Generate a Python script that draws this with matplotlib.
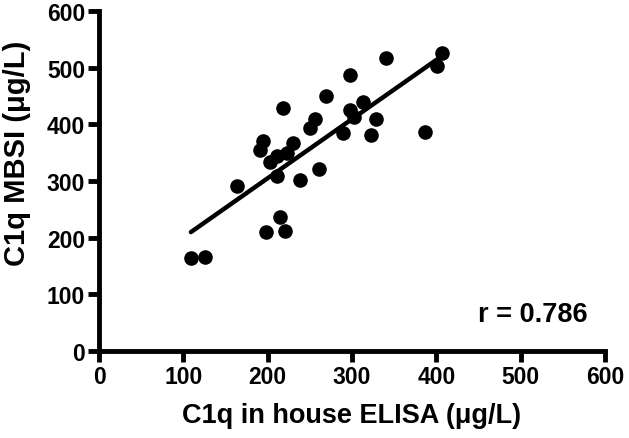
import numpy as np
import matplotlib.pyplot as plt

# C1q in house ELISA (x) vs C1q MBSI (y), ug/L
elisa = [109, 126, 164, 191, 195, 198, 203, 211, 211, 215, 218, 221, 223, 230, 238,
         250, 256, 261, 269, 289, 298, 298, 302, 313, 322, 328, 340, 386, 401, 407]
mbsi = [164, 166, 291, 355, 371, 210, 334, 345, 308, 237, 429, 212, 349, 368, 302,
        393, 410, 322, 451, 385, 487, 426, 413, 439, 382, 410, 517, 387, 504, 527]
r_text = 'r = 0.786'
ticks = [0, 100, 200, 300, 400, 500, 600]

plt.rcParams['font.family'] = ['Liberation Sans', 'DejaVu Sans']
plt.rcParams['font.weight'] = 'bold'

fig = plt.figure(figsize=(6.29, 4.39), dpi=100)
ax = fig.add_axes([0.1574, 0.199, 0.8044, 0.773])

x = np.array(elisa, dtype=float)
y = np.array(mbsi, dtype=float)
ax.plot(x, y, 'o', color='black', markersize=10.5, markeredgewidth=0, zorder=3)

k, b = np.polyfit(x, y, 1)
xf = np.array([x.min(), x.max() - 6])
ax.plot(xf, k*xf + b, '-', color='black', linewidth=3.2, solid_capstyle='round', zorder=2)

ax.text(579, 65, r_text, ha='right', va='center', fontsize=19.5, fontweight='bold')

ax.set_xlim(0, 600)
ax.set_ylim(0, 600)
ax.set_xticks(ticks)
ax.set_yticks(ticks)
ax.spines['top'].set_visible(False)
ax.spines['right'].set_visible(False)
for s in ['left', 'bottom']:
    ax.spines[s].set_linewidth(3.5)
ax.tick_params(direction='out', length=8, width=3.5, labelsize=16.5, pad=2)
for lab in ax.get_xticklabels() + ax.get_yticklabels():
    lab.set_fontweight('bold')

ax.set_xlabel('C1q in house ELISA (\u03bcg/L)', fontsize=19.5, fontweight='bold')
ax.set_ylabel('C1q MBSI (\u03bcg/L)', fontsize=21, fontweight='bold')
ax.xaxis.set_label_coords(0.5, -0.15)
ax.yaxis.set_label_coords(-0.134, 0.585)

fig.savefig('out.png', dpi=100)
